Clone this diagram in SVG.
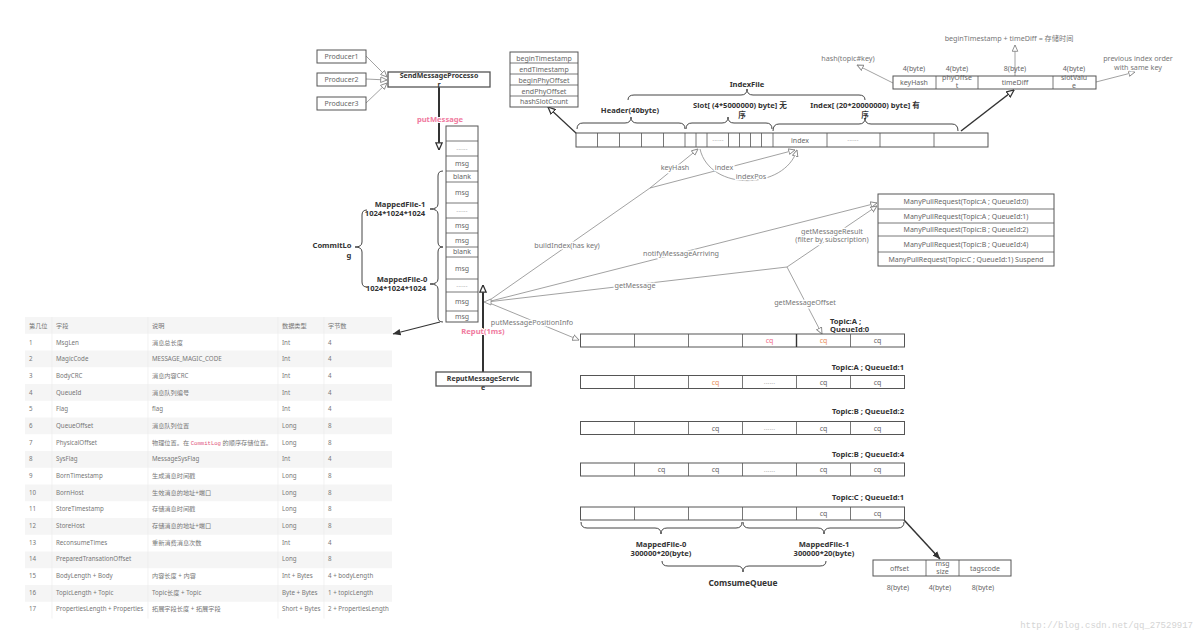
<svg xmlns="http://www.w3.org/2000/svg" width="1200" height="637" viewBox="0 0 1200 637">
<style>
text{font-family:"Noto Sans","Noto Sans CJK SC",sans-serif;}
.c{font-size:7px;fill:#666;text-anchor:middle;}
.b{font-size:7.6px;font-weight:bold;fill:#333;text-anchor:middle;}
.bx{font-size:7px;font-weight:bold;fill:#333;text-anchor:middle;}
.l{font-size:7.2px;fill:#777;text-anchor:middle;paint-order:stroke;stroke:#fff;stroke-width:3px;stroke-linejoin:round;}
.pk{font-size:7.6px;fill:#f07a9e;text-anchor:middle;font-weight:bold;paint-order:stroke;stroke:#fff;stroke-width:2px;stroke-linejoin:round;}
.box{fill:#fff;stroke:#555;stroke-width:1;}
.cell{fill:none;stroke:#555;stroke-width:0.8;}
.brace{fill:none;stroke:#444;stroke-width:1;}
.ln{fill:none;stroke:#8a8a8a;stroke-width:0.8;}
.dk{fill:none;stroke:#333;stroke-width:1.2;}
.thk{fill:none;stroke:#333;stroke-width:2;}
.dots{font-size:7px;fill:#bbb;text-anchor:middle;}
.t{font-size:6.2px;fill:#777;}
.tr{fill:#f5f5f5;}
.tv{stroke:#ececec;stroke-width:0.7;}
</style>
<defs>
<marker id="open" viewBox="0 0 10 10" refX="9.5" refY="5" markerWidth="7" markerHeight="7" markerUnits="userSpaceOnUse" orient="auto"><path d="M0.5,1 L9.5,5 L0.5,9 z" fill="#fff" stroke="#888" stroke-width="1.3"/></marker>
<marker id="openD" viewBox="0 0 10 10" refX="9.5" refY="5" markerWidth="8" markerHeight="8" markerUnits="userSpaceOnUse" orient="auto"><path d="M0.5,1 L9.5,5 L0.5,9 z" fill="#fff" stroke="#333" stroke-width="1.6"/></marker>
<marker id="fill" viewBox="0 0 10 10" refX="9.5" refY="5" markerWidth="8" markerHeight="8" markerUnits="userSpaceOnUse" orient="auto"><path d="M0,1 L10,5 L0,9 z" fill="#333"/></marker>
</defs>
<rect width="1200" height="637" fill="#fff"/>

<!-- connectors -->
<g id="connectors">
<path class="ln" d="M366,56 L387,77" marker-end="url(#open)"/>
<path class="ln" d="M366,79 L387,80" marker-end="url(#open)"/>
<path class="ln" d="M366,103 L387,83" marker-end="url(#open)"/>
<path class="thk" d="M439,87 L439,150" marker-end="url(#openD)"/>
<path class="dk" d="M440,322 L393,334" marker-end="url(#fill)"/>
<path class="thk" d="M483,372 L483,285" marker-end="url(#openD)"/>
<path class="dk" d="M577,134 L548,107" marker-end="url(#openD)"/>
<path class="dk" style="stroke-width:1.5" d="M961,131 L1014,90" marker-end="url(#openD)"/>
<path class="ln" d="M893,83 L857,65" marker-end="url(#open)"/>
<path class="ln" d="M1015,76 L1015,45" marker-end="url(#open)"/>
<path class="ln" d="M1096,82 L1135,72" marker-end="url(#open)"/>
<path class="ln" d="M487,302 L650,188 L698,149" marker-end="url(#open)"/>
<path class="ln" d="M650,188 L795,150" marker-end="url(#open)"/>
<path class="ln" d="M700,149 C710,192 785,190 797,150" marker-end="url(#open)"/>
<path class="ln" d="M487,302 L877,203" marker-end="url(#open)"/>
<path class="ln" d="M487,302 L787,267 L877,206" marker-end="url(#open)"/>
<path class="ln" d="M787,267 L822,334" marker-end="url(#open)"/>
<path class="ln" d="M487,302 L579,340" marker-end="url(#open)"/>
<path d="M484,302 L491,299 L491,305 z" fill="#fff" stroke="#888" stroke-width="0.8"/>
<path class="dk" style="stroke-width:1.5" d="M904,520 L940,559" marker-end="url(#fill)"/>
<text class="pk" x="440" y="122">putMessage</text>
<text class="pk" x="483" y="334">Reput(1ms)</text>
<text class="l" x="675" y="170">keyHash</text>
<text class="l" x="724" y="170">index</text>
<text class="l" x="751" y="179">indexPos</text>
<text class="l" x="567" y="248">buildIndex(has key)</text>
<text class="l" x="681" y="256">notifyMessageArriving</text>
<text class="l" x="635" y="288">getMessage</text>
<text class="l" x="832" y="234">getMessageResult</text>
<text class="l" x="832" y="242">(filter by subscription)</text>
<text class="l" x="805" y="305">getMessageOffset</text>
<text class="l" x="532" y="325">putMessagePositionInfo</text>
<text class="l" x="848" y="61">hash(topic#key)</text>
<text class="l" x="1009" y="41">beginTimestamp + timeDiff = 存储时间</text>
<text class="l" x="1138" y="61">previous index order</text>
<text class="l" x="1138" y="70">with same key</text>
</g>

<!-- producers -->
<g id="producer1"><rect class="box" x="317" y="50" width="49" height="13"/><text class="c" x="341.5" y="59">Producer1</text></g>
<g id="producer2"><rect class="box" x="317" y="73" width="49" height="13"/><text class="c" x="341.5" y="82">Producer2</text></g>
<g id="producer3"><rect class="box" x="317" y="97" width="49" height="13"/><text class="c" x="341.5" y="106">Producer3</text></g>
<g id="sendMessageProcessor"><rect class="box" style="stroke-width:1.3" x="388" y="72" width="102" height="15"/><text class="bx" x="439" y="77.5">SendMessageProcesso</text><text class="bx" x="439" y="86.5">r</text></g>

<!-- commitlog column -->
<g id="commitlog">
<rect class="box" x="446" y="126" width="32" height="196"/>
<path class="cell" d="M446,141H478M446,156H478M446,171H478M446,182H478M446,203H478M446,218H478M446,233H478M446,247H478M446,257H478M446,279H478M446,292H478M446,311H478"/>
<text class="dots" x="462" y="150">......</text>
<text class="c" x="462" y="166">msg</text>
<text class="c" x="462" y="179">blank</text>
<text class="c" x="462" y="195">msg</text>
<text class="dots" x="462" y="212">......</text>
<text class="c" x="462" y="228">msg</text>
<text class="c" x="462" y="243">msg</text>
<text class="c" x="462" y="254">blank</text>
<text class="c" x="462" y="271">msg</text>
<text class="dots" x="462" y="287">......</text>
<text class="c" x="462" y="304">msg</text>
<text class="c" x="462" y="319">msg</text>
<path class="brace" d="M443,171 Q438,171 438,176 L438,204 Q438,209 430,209 Q438,209 438,214 L438,242 Q438,247 443,247"/>
<path class="brace" d="M443,247 Q438,247 438,252 L438,279 Q438,284 430,284 Q438,284 438,289 L438,317 Q438,322 443,322"/>
<path class="brace" d="M367,210 Q362,210 362,215 L362,242 Q362,247 355,247 Q362,247 362,252 L362,282 Q362,287 367,287"/>
<text class="b" x="400" y="207">MappedFile-1</text>
<text class="b" x="395" y="216">1024*1024*1024</text>
<text class="b" x="402" y="282">MappedFile-0</text>
<text class="b" x="396" y="291">1024*1024*1024</text>
<text class="b" x="332" y="248">CommitLo</text>
<text class="b" x="349" y="258">g</text>
</g>

<g id="reputMessageService"><rect class="box" style="stroke-width:1.3" x="436" y="372" width="95" height="14"/><text class="bx" x="483" y="380.5">ReputMessageServic</text><text class="bx" x="483" y="390">e</text></g>

<!-- index header -->
<g id="indexHeader">
<rect class="box" x="510" y="52" width="68" height="55"/>
<path class="cell" d="M510,63H578M510,74H578M510,85H578M510,96H578"/>
<text class="c" x="544" y="60.5">beginTimestamp</text>
<text class="c" x="544" y="71.5">endTimestamp</text>
<text class="c" x="544" y="82.5">beginPhyOffset</text>
<text class="c" x="544" y="93.5">endPhyOffset</text>
<text class="c" x="544" y="104">hashSlotCount</text>
</g>

<!-- index file -->
<g id="indexFile">
<rect class="box" x="576" y="133" width="412" height="14"/>
<path class="cell" d="M597.5,133V147M619.5,133V147M641.5,133V147M663.5,133V147M685,133V147M696,133V147M707,133V147M728.5,133V147M739.5,133V147M750.5,133V147M761.5,133V147M773,133V147M827,133V147M880,133V147M934,133V147"/>
<text class="dots" x="718" y="141">......</text>
<text class="c" x="800" y="142.5">index</text>
<text class="dots" x="853" y="141">......</text>
<path class="brace" d="M577,129 Q577,123 583,123 L625,123 Q631,123 631,117 Q631,123 637,123 L679,123 Q685,123 685,129"/>
<path class="brace" d="M686,129 Q686,123 692,123 L722,123 Q728,123 728,117 Q728,123 734,123 L766,123 Q772,123 772,129"/>
<path class="brace" d="M773,131 Q773,124 779,124 L859,124 Q865,124 865,118 Q865,124 871,124 L952,124 Q958,124 958,131"/>
<path class="brace" d="M628,100 Q628,95 634,95 L741,95 Q747,95 747,89 Q747,95 753,95 L859,95 Q865,95 865,100"/>
<text class="b" x="747" y="87">IndexFile</text>
<text class="b" x="630" y="113">Header(40byte)</text>
<text class="b" x="740" y="108">Slot[ (4*5000000) byte] 无</text>
<text class="b" x="742" y="118">序</text>
<text class="b" x="865" y="108">Index[ (20*20000000) byte] 有</text>
<text class="b" x="865" y="118">序</text>
</g>

<!-- index record -->
<g id="indexRecord">
<rect class="box" x="893" y="76" width="203" height="13"/>
<path class="cell" d="M936,76V89M978,76V89M1053,76V89"/>
<text class="c" x="914" y="85">keyHash</text>
<text class="c" x="957" y="80">phyOffse</text>
<text class="c" x="957" y="88">t</text>
<text class="c" x="1015" y="85">timeDiff</text>
<text class="c" x="1074" y="80">slotValu</text>
<text class="c" x="1074" y="88">e</text>
<text class="c" x="914" y="71">4(byte)</text>
<text class="c" x="957" y="71">4(byte)</text>
<text class="c" x="1015" y="71">8(byte)</text>
<text class="c" x="1074" y="71">4(byte)</text>
</g>

<!-- many pull request -->
<g id="manyPullRequest">
<rect class="box" x="878" y="194" width="176" height="72"/>
<path class="cell" d="M878,209H1054M878,223H1054M878,236H1054M878,252H1054"/>
<text class="c" x="966" y="204">ManyPullRequest(Topic:A ; QueueId:0)</text>
<text class="c" x="966" y="218.5">ManyPullRequest(Topic:A ; QueueId:1)</text>
<text class="c" x="966" y="232">ManyPullRequest(Topic:B ; QueueId:2)</text>
<text class="c" x="966" y="246.5">ManyPullRequest(Topic:B ; QueueId:4)</text>
<text class="c" x="966" y="261.5">ManyPullRequest(Topic:C ; QueueId:1) Suspend</text>
</g>

<!-- consume queues -->
<g id="cqA0">
<rect class="box" x="580.5" y="334" width="324" height="13"/>
<path class="cell" d="M634.5,334V347M688.5,334V347M742.5,334V347M850.5,334V347"/>
<path d="M796.5,334V347" stroke="#333" stroke-width="1.4"/>
<text class="c" x="769.5" y="343" style="fill:#f0708a">cq</text>
<text class="c" x="823.5" y="343" style="fill:#e8905a">cq</text>
<text class="c" x="877.5" y="343">cq</text>
<text class="b" x="830" y="324" style="text-anchor:start">Topic:A ;</text>
<text class="b" x="830" y="332" style="text-anchor:start">QueueId:0</text>
</g>
<g id="cqA1">
<rect class="box" x="580.5" y="375.5" width="324" height="13"/>
<path class="cell" d="M634.5,375.5V388.5M688.5,375.5V388.5M742.5,375.5V388.5M796.5,375.5V388.5M850.5,375.5V388.5"/>
<text class="c" x="715.5" y="384.5" style="fill:#e8905a">cq</text>
<text class="dots" x="769.5" y="384">......</text>
<text class="c" x="823.5" y="384.5">cq</text>
<text class="c" x="877.5" y="384.5">cq</text>
<text class="b" x="904" y="370" style="text-anchor:end">Topic:A ; QueueId:1</text>
</g>
<g id="cqB2">
<rect class="box" x="580.5" y="421.5" width="324" height="13"/>
<path class="cell" d="M634.5,421.5V434.5M688.5,421.5V434.5M742.5,421.5V434.5M796.5,421.5V434.5M850.5,421.5V434.5"/>
<text class="c" x="715.5" y="430.5">cq</text>
<text class="dots" x="769.5" y="430">......</text>
<text class="c" x="823.5" y="430.5">cq</text>
<text class="c" x="877.5" y="430.5">cq</text>
<text class="b" x="904" y="414" style="text-anchor:end">Topic:B ; QueueId:2</text>
</g>
<g id="cqB4">
<rect class="box" x="580.5" y="463" width="324" height="13"/>
<path class="cell" d="M634.5,463V476M688.5,463V476M742.5,463V476M796.5,463V476M850.5,463V476"/>
<text class="c" x="661.5" y="472">cq</text>
<text class="c" x="715.5" y="472">cq</text>
<text class="dots" x="769.5" y="471.5">......</text>
<text class="c" x="823.5" y="472">cq</text>
<text class="c" x="877.5" y="472">cq</text>
<text class="b" x="904" y="457" style="text-anchor:end">Topic:B ; QueueId:4</text>
</g>
<g id="cqC1">
<rect class="box" x="580.5" y="507" width="324" height="13"/>
<path class="cell" d="M634.5,507V520M688.5,507V520M742.5,507V520M796.5,507V520M850.5,507V520"/>
<text class="c" x="823.5" y="516">cq</text>
<text class="c" x="877.5" y="516">cq</text>
<text class="b" x="904" y="500" style="text-anchor:end">Topic:C ; QueueId:1</text>
<path class="brace" d="M581,522 Q581,528 587,528 L655,528 Q661,528 661,534 Q661,528 667,528 L736,528 Q742,528 742,522"/>
<path class="brace" d="M743,522 Q743,528 749,528 L818,528 Q824,528 824,534 Q824,528 830,528 L898,528 Q904,528 904,522"/>
<path class="brace" d="M662,561 Q662,566 668,566 L737,566 Q743,566 743,572 Q743,566 749,566 L820,566 Q826,566 826,561"/>
<text class="b" x="661" y="547">MappedFile-0</text>
<text class="b" x="661" y="556">300000*20(byte)</text>
<text class="b" x="824" y="547">MappedFile-1</text>
<text class="b" x="824" y="556">300000*20(byte)</text>
<text class="b" x="743" y="586" style="font-size:8.4px">ComsumeQueue</text>
</g>

<g id="cqUnit">
<rect class="box" x="873" y="560" width="138" height="16"/>
<path class="cell" d="M926,560V576M959,560V576"/>
<text class="c" x="899.5" y="570.5">offset</text>
<text class="c" x="942.5" y="566">msg</text>
<text class="c" x="942.5" y="574">size</text>
<text class="c" x="985" y="570.5">tagscode</text>
<text class="c" x="898" y="590">8(byte)</text>
<text class="c" x="940" y="590">4(byte)</text>
<text class="c" x="983" y="590">8(byte)</text>
</g>

<!-- table -->
<g id="messageTable">
<rect class="tr" x="25" y="317" width="367" height="16.75"/>
<rect class="tr" x="25" y="350.5" width="367" height="16.75"/>
<rect class="tr" x="25" y="384" width="367" height="16.75"/>
<rect class="tr" x="25" y="417.5" width="367" height="16.75"/>
<rect class="tr" x="25" y="451" width="367" height="16.75"/>
<rect class="tr" x="25" y="484.5" width="367" height="16.75"/>
<rect class="tr" x="25" y="518" width="367" height="16.75"/>
<rect class="tr" x="25" y="551.5" width="367" height="16.75"/>
<rect class="tr" x="25" y="585" width="367" height="16.75"/>
<path class="tv" d="M52,317V618.5M148,317V618.5M278,317V618.5M324,317V618.5"/>
<g class="t">
<text x="29" y="327.5">第几位</text><text x="56" y="327.5">字段</text><text x="152" y="327.5">说明</text><text x="282" y="327.5">数据类型</text><text x="328" y="327.5">字节数</text>
<text x="29" y="344.5">1</text><text x="56" y="344.5">MsgLen</text><text x="152" y="344.5">消息总长度</text><text x="282" y="344.5">Int</text><text x="328" y="344.5">4</text>
<text x="29" y="361">2</text><text x="56" y="361">MagicCode</text><text x="152" y="361">MESSAGE_MAGIC_CODE</text><text x="282" y="361">Int</text><text x="328" y="361">4</text>
<text x="29" y="378">3</text><text x="56" y="378">BodyCRC</text><text x="152" y="378">消息内容CRC</text><text x="282" y="378">Int</text><text x="328" y="378">4</text>
<text x="29" y="394.5">4</text><text x="56" y="394.5">QueueId</text><text x="152" y="394.5">消息队列编号</text><text x="282" y="394.5">Int</text><text x="328" y="394.5">4</text>
<text x="29" y="411">5</text><text x="56" y="411">Flag</text><text x="152" y="411">flag</text><text x="282" y="411">Int</text><text x="328" y="411">4</text>
<text x="29" y="428">6</text><text x="56" y="428">QueueOffset</text><text x="152" y="428">消息队列位置</text><text x="282" y="428">Long</text><text x="328" y="428">8</text>
<text x="29" y="444.5">7</text><text x="56" y="444.5">PhysicalOffset</text><text x="152" y="444.5">物理位置。在 <tspan style="fill:#e0507a;font-family:'Liberation Mono',monospace;font-size:5.6px">CommitLog</tspan> 的顺序存储位置。</text><text x="282" y="444.5">Long</text><text x="328" y="444.5">8</text>
<text x="29" y="461">8</text><text x="56" y="461">SysFlag</text><text x="152" y="461">MessageSysFlag</text><text x="282" y="461">Int</text><text x="328" y="461">4</text>
<text x="29" y="478">9</text><text x="56" y="478">BornTimestamp</text><text x="152" y="478">生成消息时间戳</text><text x="282" y="478">Long</text><text x="328" y="478">8</text>
<text x="29" y="494.5">10</text><text x="56" y="494.5">BornHost</text><text x="152" y="494.5">生效消息的地址+端口</text><text x="282" y="494.5">Long</text><text x="328" y="494.5">8</text>
<text x="29" y="511">11</text><text x="56" y="511">StoreTimestamp</text><text x="152" y="511">存储消息时间戳</text><text x="282" y="511">Long</text><text x="328" y="511">8</text>
<text x="29" y="528">12</text><text x="56" y="528">StoreHost</text><text x="152" y="528">存储消息的地址+端口</text><text x="282" y="528">Long</text><text x="328" y="528">8</text>
<text x="29" y="544.5">13</text><text x="56" y="544.5">ReconsumeTimes</text><text x="152" y="544.5">重新消费消息次数</text><text x="282" y="544.5">Int</text><text x="328" y="544.5">4</text>
<text x="29" y="561">14</text><text x="56" y="561">PreparedTransationOffset</text><text x="282" y="561">Long</text><text x="328" y="561">8</text>
<text x="29" y="578">15</text><text x="56" y="578">BodyLength + Body</text><text x="152" y="578">内容长度 + 内容</text><text x="282" y="578">Int + Bytes</text><text x="328" y="578">4 + bodyLength</text>
<text x="29" y="594.5">16</text><text x="56" y="594.5">TopicLength + Topic</text><text x="152" y="594.5">Topic长度 + Topic</text><text x="282" y="594.5">Byte + Bytes</text><text x="328" y="594.5">1 + topicLength</text>
<text x="29" y="611">17</text><text x="56" y="611">PropertiesLength + Properties</text><text x="152" y="611">拓展字段长度 + 拓展字段</text><text x="282" y="611">Short + Bytes</text><text x="328" y="611">2 + PropertiesLength</text>
</g>
</g>

<text x="1193" y="628" style="font-family:'Liberation Mono',monospace;font-size:9px;fill:#d4d4d4;text-anchor:end">http://blog.csdn.net/qq_27529917</text>
</svg>
